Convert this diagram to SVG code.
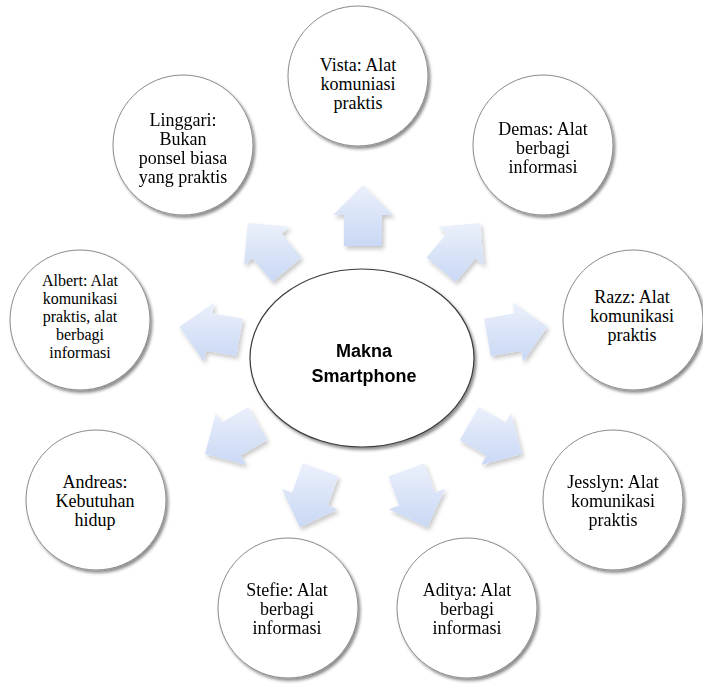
<svg xmlns="http://www.w3.org/2000/svg" width="703" height="694" viewBox="0 0 703 694">
<style>
.node circle{fill:#fff;stroke:#8a8a8a;stroke-width:1}
.node text{font-family:"Liberation Serif","Times New Roman",serif;font-size:18px;fill:#000;text-anchor:middle}
.node text.sm{font-size:16px}
.arrow{fill:url(#ag)}
.center ellipse{fill:#fff;stroke:#3a3a3a;stroke-width:1.2}
.center text{font-family:"Liberation Sans",Arial,sans-serif;font-size:18px;font-weight:bold;fill:#000;text-anchor:middle}
</style>
<defs>
<linearGradient id="ag" x1="0" y1="0" x2="0" y2="1">
<stop offset="0" stop-color="#ebf0fb"/>
<stop offset="1" stop-color="#c9d8f5"/>
</linearGradient>
<filter id="sh" x="-20%" y="-20%" width="140%" height="140%">
<feDropShadow dx="2" dy="2.5" stdDeviation="1.6" flood-color="#000" flood-opacity="0.45"/>
</filter>
<filter id="ash" x="-30%" y="-30%" width="160%" height="160%">
<feDropShadow dx="2" dy="3" stdDeviation="2" flood-color="#000" flood-opacity="0.22"/>
</filter>
</defs>
<rect width="703" height="694" fill="#fff"/>

<g id="connectors" filter="url(#ash)">
<polygon class="arrow" transform="translate(363,215)" points="0,-30 30,0 19,0 19,31 -19,31 -19,0 -30,0"/>
<polygon class="arrow" transform="translate(461,246)" points="19.28,-22.98 22.98,19.28 14.55,12.21 -5.38,35.96 -34.48,11.54 -14.55,-12.21 -22.98,-19.28"/>
<polygon class="arrow" transform="translate(518,332)" points="29.54,-5.21 5.21,29.54 3.30,18.71 -27.23,24.09 -33.83,-13.33 -3.30,-18.71 -5.21,-29.54"/>
<polygon class="arrow" transform="translate(496,439)" points="25.98,15 -15,25.98 -9.5,16.45 -36.35,0.95 -17.35,-31.95 9.5,-16.45 15,-25.98"/>
<polygon class="arrow" transform="translate(417,499)" points="10.26,28.19 -28.19,10.26 -17.85,6.50 -28.45,-22.63 7.25,-35.63 17.85,-6.50 28.19,-10.26"/>
<polygon class="arrow" transform="translate(310,499)" points="-10.26,28.19 28.19,10.26 17.85,6.50 28.45,-22.63 -7.25,-35.63 -17.85,-6.50 -28.19,-10.26"/>
<polygon class="arrow" transform="translate(231,439)" points="-25.98,15 15,25.98 9.5,16.45 36.35,0.95 17.35,-31.95 -9.5,-16.45 -15,-25.98"/>
<polygon class="arrow" transform="translate(209,332)" points="-29.54,-5.21 -5.21,29.54 -3.30,18.71 27.23,24.09 33.83,-13.33 3.30,-18.71 5.21,-29.54"/>
<polygon class="arrow" transform="translate(267,246)" points="-19.28,-22.98 -22.98,19.28 -14.55,12.21 5.38,35.96 34.48,11.54 14.55,-12.21 22.98,-19.28"/>
</g>

<g id="center" class="center">
<ellipse cx="362" cy="358" rx="112" ry="89" filter="url(#sh)"/>
<text x="364" y="357">Makna</text>
<text x="364" y="382">Smartphone</text>
</g>

<g id="vista" class="node">
<circle cx="358" cy="76" r="70" filter="url(#sh)"/>
<text x="358" y="71">Vista: Alat</text>
<text x="358" y="90">komuniasi</text>
<text x="358" y="109">praktis</text>
</g>

<g id="demas" class="node">
<circle cx="543" cy="145" r="70" filter="url(#sh)"/>
<text x="543" y="135">Demas: Alat</text>
<text x="543" y="154">berbagi</text>
<text x="543" y="173">informasi</text>
</g>

<g id="razz" class="node">
<circle cx="633" cy="320" r="70" filter="url(#sh)"/>
<text x="632" y="303">Razz: Alat</text>
<text x="632" y="322">komunikasi</text>
<text x="632" y="341">praktis</text>
</g>

<g id="jesslyn" class="node">
<circle cx="613" cy="500" r="70" filter="url(#sh)"/>
<text x="613" y="488">Jesslyn: Alat</text>
<text x="613" y="507">komunikasi</text>
<text x="613" y="526">praktis</text>
</g>

<g id="aditya" class="node">
<circle cx="467" cy="608" r="70" filter="url(#sh)"/>
<text x="467" y="596">Aditya: Alat</text>
<text x="467" y="615">berbagi</text>
<text x="467" y="634">informasi</text>
</g>

<g id="stefie" class="node">
<circle cx="288" cy="608" r="70" filter="url(#sh)"/>
<text x="287" y="596">Stefie: Alat</text>
<text x="287" y="615">berbagi</text>
<text x="287" y="634">informasi</text>
</g>

<g id="andreas" class="node">
<circle cx="96" cy="500" r="70" filter="url(#sh)"/>
<text x="95" y="488">Andreas:</text>
<text x="95" y="507">Kebutuhan</text>
<text x="95" y="526">hidup</text>
</g>

<g id="albert" class="node">
<circle cx="80" cy="320" r="70" filter="url(#sh)"/>
<text class="sm" x="80" y="286">Albert: Alat</text>
<text class="sm" x="80" y="304">komunikasi</text>
<text class="sm" x="80" y="322">praktis, alat</text>
<text class="sm" x="80" y="340">berbagi</text>
<text class="sm" x="80" y="358">informasi</text>
</g>

<g id="linggari" class="node">
<circle cx="183" cy="145" r="70" filter="url(#sh)"/>
<text x="183" y="126">Linggari:</text>
<text x="183" y="145">Bukan</text>
<text x="183" y="164">ponsel biasa</text>
<text x="183" y="183">yang praktis</text>
</g>
</svg>
